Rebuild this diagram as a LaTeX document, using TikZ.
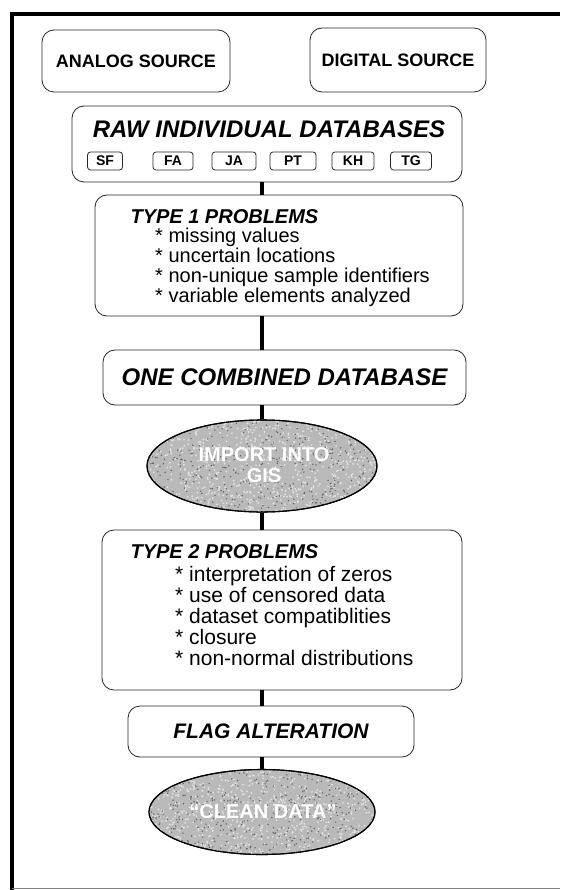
\documentclass[tikz,border=0pt]{standalone}
\usepackage{fontspec}
\setmainfont{Liberation Sans}
\usetikzlibrary{shapes.geometric,calc}

\tikzset{
  box/.style={draw=black!85, line width=0.8pt, rounded corners=12pt, inner sep=0pt},
  tag/.style={draw=black!85, line width=0.8pt, rounded corners=3pt, minimum width=38pt,
    minimum height=18pt, inner sep=0pt, font=\fontsize{14}{14}\selectfont\bfseries},
  link/.style={line width=4pt, black},
  oval/.style={ellipse, draw=black, line width=1.1pt, fill=gray!55, inner sep=0pt},
  ovaltext/.style={text=white, font=\fontsize{20}{21}\selectfont\bfseries, align=center},
  heading/.style={anchor=west, font=\fontsize{20}{20}\selectfont\bfseries\itshape},
  items/.style={anchor=north west, align=left, inner sep=0pt},
}

% grainy fill for an ellipse node: #1 = node name, #2 = half width, #3 = half height
\newcommand{\speckle}[3]{%
  \begin{scope}
    \clip (#1.center) ellipse [x radius=#2, y radius=#3];
    \foreach \k in {1,...,800} {
      \fill[gray!22] ($(#1.center)+(rand*#2, rand*#3)$) circle (1pt);
    }
    \foreach \k in {1,...,450} {
      \fill[gray!80!black] ($(#1.center)+(rand*#2, rand*#3)$) circle (0.8pt);
    }
  \end{scope}}

\begin{document}
\begin{tikzpicture}[x=1pt, y=-1pt]
\pgfmathsetseed{17}
\useasboundingbox (0,0) rectangle (560,890);
\fill[white] (0,0) rectangle (560,890);

% page frame
\draw[line width=4pt] (10,14) -- (560,14);
\draw[line width=4pt] (12,12) -- (12,890);
\draw[line width=1pt, gray] (12,888) -- (560,888);

% sources
\node[box, minimum width=188pt, minimum height=62pt,
      font=\fontsize{18}{18}\selectfont\bfseries] (analog) at (136,61) {ANALOG SOURCE};
\node[box, minimum width=176pt, minimum height=64pt,
      font=\fontsize{18}{18}\selectfont\bfseries] (digital) at (398,60) {DIGITAL SOURCE};

% raw individual databases
\node[box, minimum width=390pt, minimum height=76pt] (raw) at (267,144) {};
\node[font=\fontsize{24}{24}\selectfont\bfseries\itshape] (rawtitle) at (269,129) {RAW INDIVIDUAL DATABASES};
\node[tag, minimum width=35pt] (sf) at (105,161) {SF};
\node[tag, minimum width=40pt] (fa) at (173,161) {FA};
\node[tag, minimum width=44pt] (ja) at (234,161) {JA};
\node[tag, minimum width=46pt] (pt) at (293,161) {PT};
\node[tag, minimum width=42pt] (kh) at (353,161) {KH};
\node[tag, minimum width=41pt] (tg) at (411,161) {TG};

% type 1 problems
\node[box, minimum width=368pt, minimum height=121pt] (type1) at (279,255.5) {};
\node[heading] (t1title) at (127,217) {TYPE 1 PROBLEMS};
\node[items, font=\fontsize{20}{20}\selectfont] (t1items) at (155,228)
  {* missing values\\* uncertain locations\\* non-unique sample identifiers\\* variable elements analyzed};

% combined database
\node[box, minimum width=363pt, minimum height=55pt,
      font=\fontsize{24}{24}\selectfont\bfseries\itshape] (combined) at (284.5,377.5) {ONE COMBINED DATABASE};

% import into GIS
\node[oval, minimum width=230pt, minimum height=92pt] (import) at (262,466) {};
\speckle{import}{115pt}{46pt}
\draw[line width=1.1pt] (import.center) ellipse [x radius=115pt, y radius=46pt];
\node[ovaltext] (importtext) at (264,465) {IMPORT INTO\\GIS};

% type 2 problems
\node[box, minimum width=360pt, minimum height=160pt] (type2) at (282,610) {};
\node[heading] (t2title) at (127,552) {TYPE 2 PROBLEMS};
\node[items, font=\fontsize{21}{21}\selectfont] (t2items) at (175,566)
  {* interpretation of zeros\\* use of censored data\\* dataset compatiblities\\* closure\\* non-normal distributions};

% flag alteration
\node[box, minimum width=286pt, minimum height=51pt,
      font=\fontsize{21}{21}\selectfont\bfseries\itshape] (flag) at (271,731.5) {FLAG ALTERATION};

% clean data
\node[oval, minimum width=226pt, minimum height=85pt] (clean) at (262,812) {};
\speckle{clean}{113pt}{42.5pt}
\draw[line width=1.1pt] (clean.center) ellipse [x radius=113pt, y radius=42.5pt];
\node[ovaltext] (cleantext) at (263,812) {``CLEAN DATA''};

% flow connectors
\draw[link] (262,0 |- raw.south) -- (262,0 |- type1.north);
\draw[link] (262,0 |- type1.south) -- (262,0 |- combined.north);
\draw[link] (262,0 |- combined.south) -- (import.north);
\draw[link] (import.south) -- (262,0 |- type2.north);
\draw[link] (262,0 |- type2.south) -- (262,0 |- flag.north);
\draw[link] (262,0 |- flag.south) -- (clean.north);
\end{tikzpicture}
\end{document}
